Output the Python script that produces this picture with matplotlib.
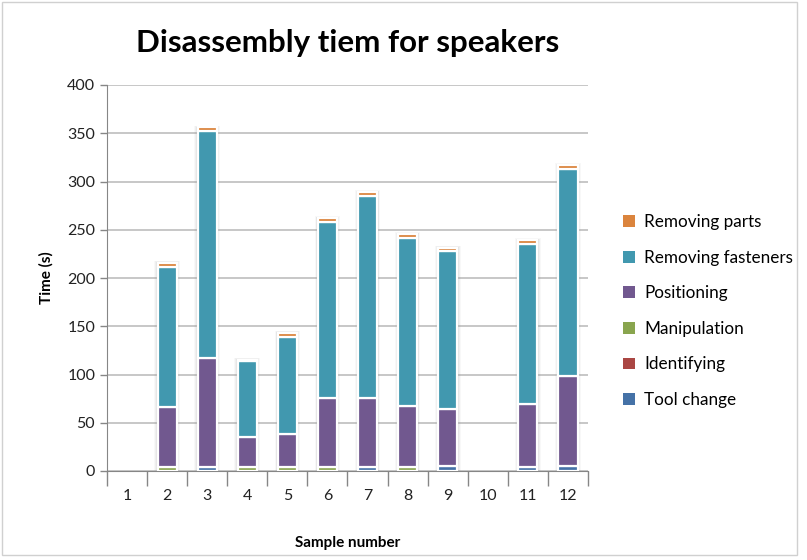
"""Stacked bar chart of disassembly time per speaker sample."""
import matplotlib.pyplot as plt
import numpy as np
from matplotlib.patches import Rectangle

plt.rcParams["font.family"] = ["Lato", "DejaVu Sans"]

samples = ["1", "2", "3", "4", "5", "6", "7", "8", "9", "10", "11", "12"]
tool_change = [0, 0, 4, 0, 0, 0, 4, 0, 5, 0, 4, 5]
identifying = [0, 0, 0, 0, 0, 0, 0, 0, 0, 0, 0, 0]
manipulation = [0, 4, 0, 4, 4, 4, 0, 4, 0, 0, 0, 0]
positioning = [0, 62, 113, 31, 34, 72, 72, 63, 59, 0, 65, 93]
removing_fasteners = [0, 145, 235, 79, 101, 182, 209, 174, 164, 0, 166, 215]
removing_parts = [0, 5, 4, 1.5, 4.5, 4, 4, 4.5, 3.5, 0, 4.5, 4]

series = [
    ("Tool change", tool_change, "#4572A7"),
    ("Identifying", identifying, "#AA4643"),
    ("Manipulation", manipulation, "#89A54E"),
    ("Positioning", positioning, "#71588F"),
    ("Removing fasteners", removing_fasteners, "#4198AF"),
    ("Removing parts", removing_parts, "#DB843D"),
]

fig = plt.figure(figsize=(8.07, 5.6), dpi=100)
ax = fig.add_axes([107 / 807, 1 - 471 / 560, (588 - 107) / 807, (471 - 85) / 560])

x = np.arange(len(samples))
width = 0.48

# soft shadow behind each stack
totals = np.sum([s[1] for s in series], axis=0)
for xi, t in zip(x, totals):
    if t <= 0:
        continue
    for grow, a in [(0.16, 0.05), (0.11, 0.07), (0.07, 0.09)]:
        ax.add_patch(Rectangle((xi - (width + grow) / 2, 0), width + grow, t + grow * 12,
                               facecolor="#7f7f7f", edgecolor="none", alpha=a, zorder=2))

bottom = np.zeros(len(samples))
handles = []
for name, vals, color in series:
    vals = np.array(vals, dtype=float)
    keep = vals > 0
    ax.bar(x[keep], vals[keep], width, bottom=bottom[keep], color=color,
           edgecolor="white", linewidth=1.6, label=name, zorder=3)
    handles.append(Rectangle((0, 0), 1, 1, facecolor=color))
    bottom += vals

ax.set_xlim(-0.5, len(samples) - 0.5)
ax.set_ylim(0, 400)
ax.set_yticks(range(0, 401, 50))
ax.set_xticks(x)
ax.set_xticklabels(samples)
ax.set_xticks(np.arange(-0.5, len(samples), 1), minor=True)
ax.tick_params(axis="x", which="major", length=0, pad=13, labelsize=11.5, colors="#222222")
ax.tick_params(axis="x", which="minor", length=11, width=1, color="#868686")
ax.tick_params(axis="y", length=5, width=1, color="#868686", labelsize=11.5, colors="#222222")

ax.grid(axis="y", color="#bdbdbd", linewidth=1.2, zorder=0)
ax.set_axisbelow(True)
for side in ["top", "right"]:
    ax.spines[side].set_visible(False)
ax.spines["left"].set_color("#868686")
ax.spines["bottom"].set_color("#868686")

ax.set_title("Disassembly tiem for speakers", fontsize=22.5, fontweight="bold", pad=24)
ax.set_ylabel("Time (s)", fontsize=11, fontweight="bold", labelpad=10)
ax.set_xlabel("Sample number", fontsize=11, fontweight="bold", labelpad=24)

leg = fig.legend(handles[::-1], [s[0] for s in series][::-1], loc="center left",
                 bbox_to_anchor=(608 / 807, 1 - 311 / 560), frameon=False,
                 fontsize=12.3, handlelength=0.7, handleheight=0.7,
                 handletextpad=0.5, labelspacing=1.15)

# light frame round the whole chart area
fig.add_artist(Rectangle((2 / 807, 5 / 560), 795 / 807, 553 / 560,
                         transform=fig.transFigure, fill=False,
                         edgecolor="#d0d0d0", linewidth=1))

fig.savefig("out.png", dpi=100)
